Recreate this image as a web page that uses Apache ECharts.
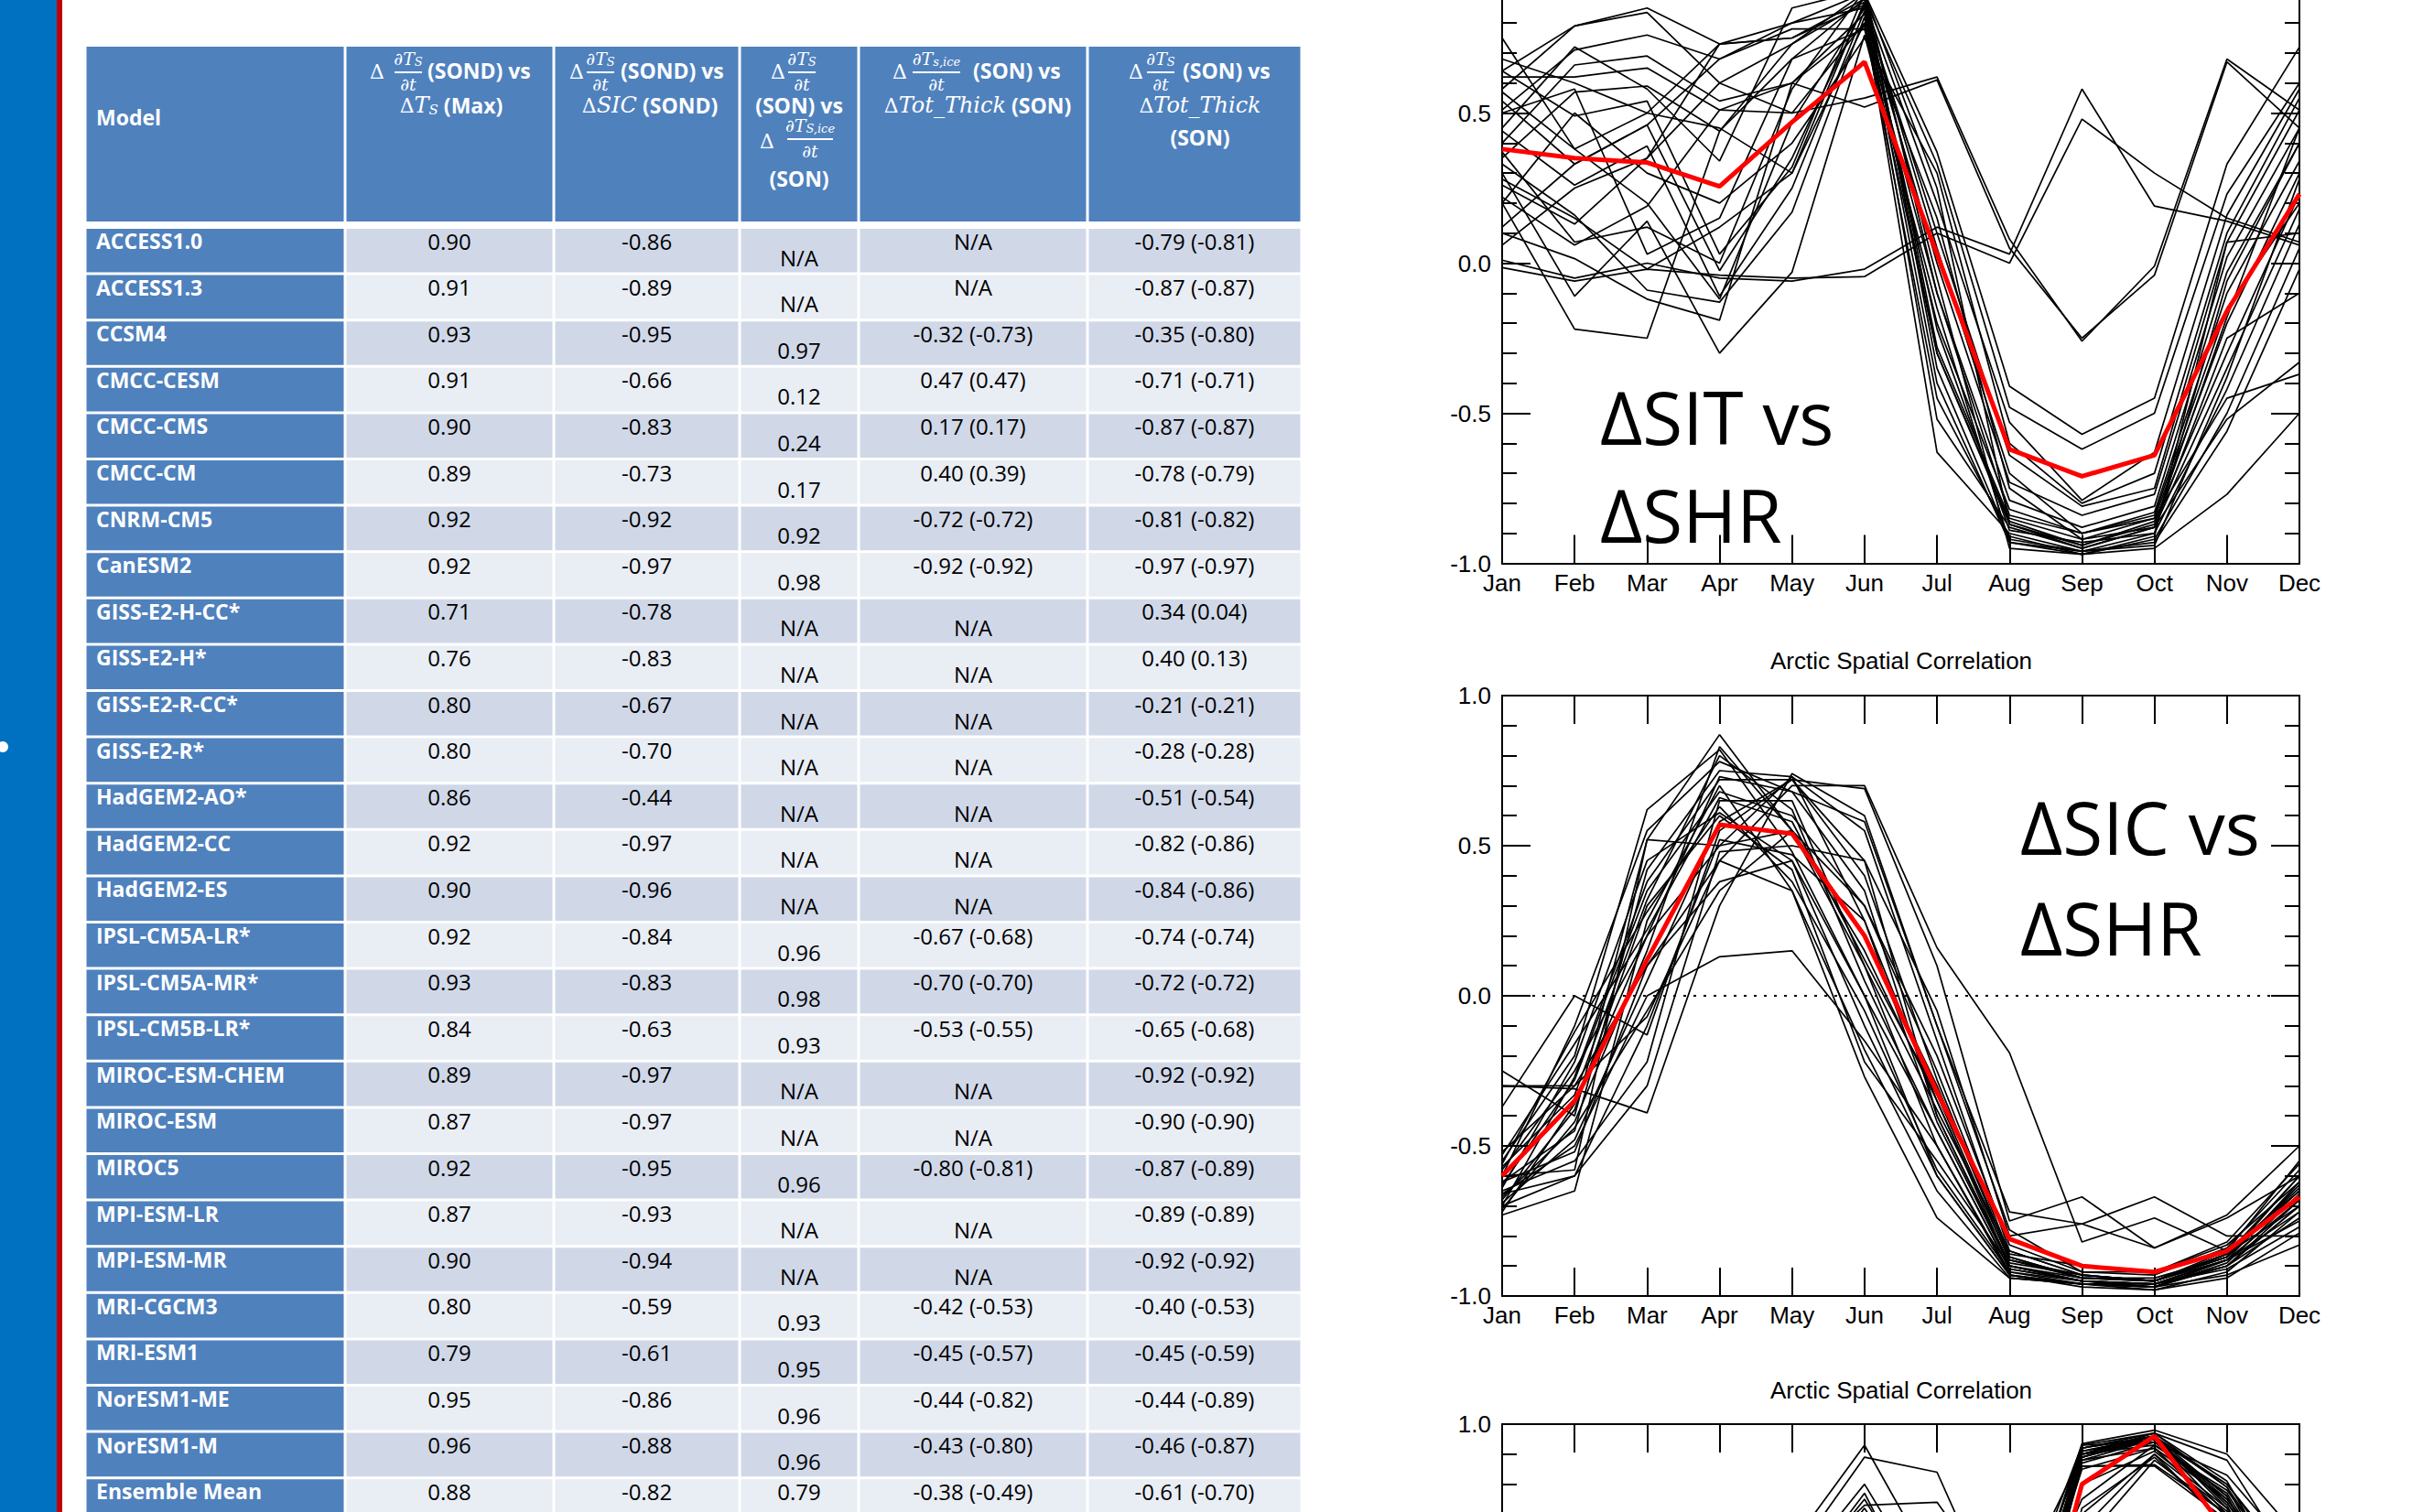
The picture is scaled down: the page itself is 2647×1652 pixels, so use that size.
<!DOCTYPE html>
<html><head><meta charset="utf-8">
<script src="https://cdn.jsdelivr.net/npm/echarts@6/dist/echarts.min.js"></script>
<style>html,body{margin:0;padding:0;background:#fff;overflow:hidden}#c{width:2647px;height:1652px}</style>
</head><body><div id="c"></div>
<script>
// ---------------- DATA ----------------
const months = ['Jan','Feb','Mar','Apr','May','Jun','Jul','Aug','Sep','Oct','Nov','Dec'];
const chartTitle = 'Arctic Spatial Correlation';

const models = ['ACCESS1.0','ACCESS1.3','CCSM4','CMCC-CESM','CMCC-CMS','CMCC-CM','CNRM-CM5','CanESM2','GISS-E2-H-CC*','GISS-E2-H*','GISS-E2-R-CC*','GISS-E2-R*','HadGEM2-AO*','HadGEM2-CC','HadGEM2-ES','IPSL-CM5A-LR*','IPSL-CM5A-MR*','IPSL-CM5B-LR*','MIROC-ESM-CHEM','MIROC-ESM','MIROC5','MPI-ESM-LR','MPI-ESM-MR','MRI-CGCM3','MRI-ESM1','NorESM1-ME','NorESM1-M','Ensemble Mean'];
const tsMax = ['0.90','0.91','0.93','0.91','0.90','0.89','0.92','0.92','0.71','0.76','0.80','0.80','0.86','0.92','0.90','0.92','0.93','0.84','0.89','0.87','0.92','0.87','0.90','0.80','0.79','0.95','0.96','0.88'];
const sicSond = ['-0.86','-0.89','-0.95','-0.66','-0.83','-0.73','-0.92','-0.97','-0.78','-0.83','-0.67','-0.70','-0.44','-0.97','-0.96','-0.84','-0.83','-0.63','-0.97','-0.97','-0.95','-0.93','-0.94','-0.59','-0.61','-0.86','-0.88','-0.82'];
const iceRatio = ['N/A','N/A','0.97','0.12','0.24','0.17','0.92','0.98','N/A','N/A','N/A','N/A','N/A','N/A','N/A','0.96','0.98','0.93','N/A','N/A','0.96','N/A','N/A','0.93','0.95','0.96','0.96','0.79'];
const iceThick = ['N/A','N/A','-0.32 (-0.73)','0.47 (0.47)','0.17 (0.17)','0.40 (0.39)','-0.72 (-0.72)','-0.92 (-0.92)','N/A','N/A','N/A','N/A','N/A','N/A','N/A','-0.67 (-0.68)','-0.70 (-0.70)','-0.53 (-0.55)','N/A','N/A','-0.80 (-0.81)','N/A','N/A','-0.42 (-0.53)','-0.45 (-0.57)','-0.44 (-0.82)','-0.43 (-0.80)','-0.38 (-0.49)'];
const totThick = ['-0.79 (-0.81)','-0.87 (-0.87)','-0.35 (-0.80)','-0.71 (-0.71)','-0.87 (-0.87)','-0.78 (-0.79)','-0.81 (-0.82)','-0.97 (-0.97)','0.34 (0.04)','0.40 (0.13)','-0.21 (-0.21)','-0.28 (-0.28)','-0.51 (-0.54)','-0.82 (-0.86)','-0.84 (-0.86)','-0.74 (-0.74)','-0.72 (-0.72)','-0.65 (-0.68)','-0.92 (-0.92)','-0.90 (-0.90)','-0.87 (-0.89)','-0.89 (-0.89)','-0.92 (-0.92)','-0.40 (-0.53)','-0.45 (-0.59)','-0.44 (-0.89)','-0.46 (-0.87)','-0.61 (-0.70)'];

// Top panel: dSIT vs dSHR (model lines + ensemble mean)
const sitModels = [
 [0.01,-0.05,0.0,-0.05,-0.06,-0.02,0.12,0.03,0.58,0.19,0.14,0.06],
 [-0.015,-0.06,-0.02,-0.04,-0.05,-0.045,0.10,0.0,0.48,0.30,0.15,0.07],
 [0.26,0.13,0.35,0.60,0.50,0.55,0.62,0.08,-0.26,-0.01,0.68,0.51],
 [0.22,0.06,0.19,0.51,0.60,0.52,0.61,0.05,-0.25,-0.04,0.67,0.45],
 [0.75,0.38,0.50,0.73,0.80,0.90,0.37,-0.41,-0.57,-0.45,0.33,0.72],
 [0.64,0.79,0.85,0.73,0.75,0.88,0.33,-0.48,-0.62,-0.50,0.23,0.60],
 [0.58,0.79,0.835,0.60,0.73,0.87,0.20,-0.53,-0.79,-0.63,0.16,0.58],
 [0.51,0.71,0.76,0.68,0.80,0.85,0.10,-0.64,-0.81,-0.75,0.07,0.51],
 [0.40,0.66,0.69,0.54,0.60,0.83,0.0,-0.73,-0.84,-0.77,0.02,0.45],
 [0.62,0.62,0.65,0.51,0.50,0.80,-0.10,-0.79,-0.88,-0.81,-0.03,0.40],
 [0.35,0.57,0.59,0.44,0.68,0.78,-0.20,-0.82,-0.90,-0.83,-0.10,0.34],
 [0.64,0.49,0.54,0.03,0.32,0.90,-0.28,-0.85,-0.92,-0.85,-0.20,0.30],
 [0.54,0.33,0.46,-0.025,0.35,0.86,-0.30,-0.87,-0.94,-0.86,-0.30,0.23],
 [0.44,0.26,0.39,-0.11,0.25,0.84,-0.52,-0.88,-0.95,-0.88,-0.35,0.18],
 [0.33,0.16,-0.09,-0.13,0.17,0.82,-0.63,-0.90,-0.96,-0.90,-0.42,0.13],
 [0.10,0.015,-0.12,-0.19,0.60,0.79,-0.45,-0.91,-0.97,-0.92,-0.50,0.05],
 [0.30,-0.11,0.14,-0.30,-0.03,0.76,-0.15,-0.93,-0.96,-0.93,-0.56,-0.02],
 [0.20,-0.22,-0.25,0.44,0.73,0.90,0.25,-0.87,-0.95,-0.88,-0.25,-0.10],
 [0.50,0.58,0.03,0.15,0.68,0.88,-0.05,-0.95,-0.97,-0.95,-0.77,-0.50],
 [0.06,0.25,0.35,0.73,0.75,0.86,0.05,-0.70,-0.90,-0.85,-0.45,-0.37],
 [0.12,0.33,0.46,0.68,0.78,0.78,0.15,-0.75,-0.92,-0.88,-0.52,-0.33],
 [0.45,0.72,0.58,0.34,0.85,0.91,-0.35,-0.92,-0.96,-0.94,-0.38,0.28],
 [0.28,0.15,-0.02,0.12,0.30,0.87,-0.22,-0.89,-0.93,-0.90,-0.06,0.40],
 [0.57,0.38,0.20,-0.12,0.47,0.85,-0.40,-0.93,-0.97,-0.91,0.07,0.10],
 [0.37,0.07,0.12,0.0,0.58,0.91,-0.10,-0.84,-0.90,-0.84,-0.15,0.20],
 [0.20,0.50,0.30,0.20,0.40,0.75,0.30,-0.60,-0.80,-0.70,0.10,0.55],
 [0.68,0.60,0.50,0.45,0.30,0.80,-0.30,-0.86,-0.94,-0.87,-0.18,0.45]
];
const sitMean = [0.38,0.35,0.335,0.256,0.47,0.67,0.03,-0.62,-0.71,-0.64,-0.16,0.23];

// Middle panel: dSIC vs dSHR
const sicModels = [
 [-0.25,-0.40,0.52,0.87,0.55,0.10,-0.50,-0.92,-0.95,-0.97,-0.88,-0.62],
 [-0.30,-0.31,-0.39,0.30,0.74,0.60,-0.10,-0.72,-0.76,-0.84,-0.73,-0.50],
 [-0.30,-0.30,-0.07,0.45,0.70,0.70,0.16,-0.19,-0.82,-0.74,-0.85,-0.55],
 [-0.37,0.0,-0.13,0.55,0.72,0.69,0.10,-0.75,-0.67,-0.84,-0.74,-0.60],
 [-0.55,-0.20,0.62,0.82,0.48,0.0,-0.60,-0.93,-0.96,-0.97,-0.90,-0.70],
 [-0.60,-0.10,0.55,0.78,0.68,0.35,-0.40,-0.90,-0.95,-0.96,-0.88,-0.72],
 [-0.62,-0.45,0.42,0.75,0.73,0.25,-0.35,-0.88,-0.94,-0.95,-0.87,-0.65],
 [-0.65,-0.55,-0.22,0.65,0.65,0.10,-0.38,-0.85,-0.93,-0.95,-0.86,-0.70],
 [-0.70,-0.60,-0.30,0.48,0.50,0.45,-0.05,-0.80,-0.76,-0.67,-0.80,-0.80],
 [-0.73,-0.65,0.25,0.70,0.35,-0.27,-0.74,-0.94,-0.96,-0.97,-0.93,-0.83],
 [-0.68,-0.38,0.30,0.60,0.42,-0.22,-0.55,-0.90,-0.95,-0.96,-0.88,-0.75],
 [-0.58,-0.25,0.20,0.50,0.73,0.55,-0.15,-0.85,-0.93,-0.95,-0.85,-0.65],
 [-0.52,-0.30,0.10,0.38,0.45,0.0,-0.45,-0.91,-0.95,-0.96,-0.90,-0.68],
 [-0.66,-0.50,0.0,0.13,0.15,-0.15,-0.50,-0.93,-0.97,-0.98,-0.92,-0.72],
 [-0.71,-0.42,0.15,0.83,0.55,0.20,-0.30,-0.87,-0.94,-0.95,-0.87,-0.60],
 [-0.63,-0.28,0.35,0.68,0.60,0.30,-0.20,-0.83,-0.92,-0.93,-0.84,-0.58],
 [-0.60,-0.58,0.52,0.50,0.55,0.30,-0.25,-0.86,-0.90,-0.92,-0.83,-0.62],
 [-0.56,-0.12,0.28,0.63,0.38,-0.05,-0.58,-0.92,-0.96,-0.97,-0.90,-0.70],
 [-0.69,-0.48,0.05,0.58,0.72,0.45,-0.40,-0.89,-0.93,-0.95,-0.86,-0.64],
 [-0.72,-0.36,0.20,0.73,0.68,0.58,-0.10,-0.78,-0.92,-0.92,-0.82,-0.56],
 [-0.64,-0.22,0.45,0.61,0.45,-0.10,-0.60,-0.93,-0.96,-0.96,-0.91,-0.77],
 [-0.67,-0.44,-0.05,0.35,0.55,0.15,-0.35,-0.90,-0.94,-0.95,-0.88,-0.68],
 [-0.57,-0.33,0.32,0.80,0.62,0.05,-0.45,-0.91,-0.95,-0.97,-0.89,-0.66],
 [-0.62,-0.52,0.10,0.45,0.35,-0.18,-0.65,-0.94,-0.96,-0.98,-0.94,-0.79],
 [-0.70,-0.27,0.38,0.72,0.72,0.40,-0.28,-0.87,-0.94,-0.94,-0.87,-0.63],
 [-0.53,-0.16,0.22,0.66,0.58,0.12,-0.33,-0.88,-0.93,-0.95,-0.86,-0.60],
 [-0.66,-0.60,-0.10,0.52,0.47,0.25,-0.42,-0.90,-0.95,-0.96,-0.90,-0.74]
];
const sicMean = [-0.60,-0.35,0.12,0.57,0.54,0.20,-0.32,-0.81,-0.90,-0.92,-0.85,-0.67];

// Bottom panel (only its top edge is visible)
const thirdModels = [
 [0.2,0.1,0.0,0.3,0.6,0.93,0.5,0.2,0.935,0.98,0.9,0.62],
 [0.1,0.0,-0.1,0.2,0.55,0.89,0.84,0.3,0.93,0.97,0.88,0.5],
 [0.0,-0.1,-0.2,0.1,0.5,0.8,0.4,0.1,0.92,0.97,0.81,0.4],
 [-0.1,-0.2,-0.3,0.0,0.45,0.77,0.3,0.0,0.91,0.96,0.79,0.35],
 [0.1,0.05,0.0,0.2,0.5,0.73,0.74,0.4,0.9,0.96,0.76,0.3],
 [0.0,-0.1,-0.1,0.1,0.4,0.72,0.35,0.2,0.89,0.95,0.75,0.45],
 [-0.2,-0.3,-0.2,0.0,0.3,0.65,0.3,0.1,0.86,0.865,0.7,0.4],
 [-0.1,-0.2,-0.1,0.1,0.35,0.6,0.25,0.0,0.86,0.86,0.68,0.35],
 [0.0,-0.1,0.0,0.2,0.4,0.7,0.2,-0.1,0.88,0.95,0.8,0.5],
 [0.1,0.0,0.1,0.3,0.5,0.68,0.3,0.0,0.87,0.94,0.74,0.4],
 [-0.3,-0.3,-0.2,0.0,0.3,0.6,0.2,0.1,0.92,0.96,0.72,0.3],
 [-0.2,-0.2,-0.1,0.1,0.4,0.55,0.1,0.0,0.9,0.95,0.7,0.35],
 [0.0,0.0,0.1,0.2,0.45,0.62,0.25,0.2,0.75,0.93,0.78,0.45],
 [0.1,0.0,0.0,0.2,0.4,0.5,0.15,-0.1,0.7,0.9,0.66,0.3],
 [-0.1,-0.1,0.0,0.1,0.3,0.58,0.2,0.1,0.85,0.92,0.69,0.4],
 [-0.2,-0.3,-0.2,0.0,0.35,0.66,0.3,0.1,0.9,0.93,0.77,0.38],
 [0.0,-0.1,-0.1,0.1,0.4,0.52,0.2,-0.2,0.6,0.88,0.7,0.3],
 [0.1,0.0,-0.1,0.2,0.45,0.7,0.4,0.2,0.93,0.94,0.83,0.55],
 [-0.1,-0.2,-0.1,0.1,0.35,0.6,0.3,0.3,0.89,0.96,0.73,0.28],
 [0.0,0.0,0.0,0.2,0.4,0.65,0.2,0.0,0.88,0.92,0.75,0.42],
 [-0.1,-0.1,-0.2,0.0,0.3,0.55,0.1,-0.1,0.65,0.9,0.71,0.33],
 [0.1,0.1,0.0,0.2,0.45,0.75,0.35,0.1,0.91,0.95,0.74,0.36],
 [-0.2,-0.1,-0.1,0.1,0.35,0.63,0.25,0.0,0.8,0.91,0.72,0.3],
 [0.0,-0.1,0.0,0.1,0.4,0.58,0.2,-0.2,0.72,0.89,0.67,0.26],
 [0.2,0.1,0.1,0.3,0.5,0.67,0.3,0.1,0.9,0.97,0.79,0.44],
 [-0.1,-0.1,-0.1,0.1,0.3,0.62,0.15,0.0,0.89,0.95,0.76,0.34],
 [0.0,0.0,-0.1,0.1,0.4,0.7,0.3,0.2,0.92,0.96,0.8,0.48]
];
const thirdMean = [0.0,-0.05,-0.05,0.12,0.4,0.65,0.25,-0.1,0.8,0.96,0.64,0.35];

// ---------------- LAYOUT / STYLE ----------------
const W = '#ffffff';
const HEAD_BLUE = '#4F81BD';
const ROW_A = '#D0D8E8', ROW_B = '#E9EDF4';
const SANS = '"Open Sans", "Noto Sans", sans-serif';
const MATH = '"DejaVu Serif", serif';
const LAB = '"Liberation Sans", Arial, sans-serif';
const colX = [93, 377, 605, 808, 938, 1188, 1422];
const headTop = 51, headBot = 242;
const rowTop0 = 250, rowPitch = 50.6, rowH = 47.6;

const gfx = [];
function rect(x, y, w, h, fill) {
  gfx.push({type:'rect', silent:true, z:1, shape:{x, y, width:w, height:h}, style:{fill}});
}
function txt(x, y, text, o) {
  o = o || {};
  const align = o.align || 'center';
  gfx.push({type:'text', silent:true, z:5, x, y, style:{
    text, fill: o.fill || W,
    fontSize: o.size || 23, fontFamily: o.family || SANS,
    fontWeight: o.weight || 'normal', fontStyle: o.style || 'normal',
    align, verticalAlign:'middle', textAlign: align, textVerticalAlign:'middle',
    rich: o.rich
  }});
}
function line(x1, y1, x2, y2, stroke, w) {
  gfx.push({type:'line', silent:true, z:5, shape:{x1, y1, x2, y2}, style:{stroke, lineWidth:w}});
}
const mathRich = {
  d:{fontSize:22, fontFamily:MATH, fill:W},
  m:{fontSize:24, fontFamily:MATH, fontStyle:'italic', fill:W},
  ms:{fontSize:15, fontFamily:MATH, fontStyle:'italic', fill:W, verticalAlign:'bottom'},
  b:{fontSize:23, fontFamily:SANS, fontWeight:'bold', fill:W},
  n:{fontSize:19, fontFamily:MATH, fontStyle:'italic', fill:W},
  ns:{fontSize:13, fontFamily:MATH, fontStyle:'italic', fill:W, verticalAlign:'bottom'}
};
function frac(cx, barY, sub, barW) {
  txt(cx, barY - 15, '{n|∂T}{ns|' + sub + '}', {rich: mathRich});
  line(cx - barW / 2, barY, cx + barW / 2, barY, W, 2);
  txt(cx, barY + 13, '{n|∂t}', {rich: mathRich});
}
function delta(x, y) { txt(x, y, 'Δ', {family: MATH, size: 22}); }

// slide decorations
rect(0, 0, 62, 1652, '#0070C0');
rect(62, 0, 6, 1652, '#C00000');
gfx.push({type:'circle', silent:true, z:2, shape:{cx:3, cy:816, r:6}, style:{fill:W}});

// table header
for (let c = 0; c < 6; c++) rect(colX[c] + 1.5, headTop, colX[c+1] - colX[c] - 3, headBot - headTop, HEAD_BLUE);
txt(105, 128, 'Model', {align:'left', weight:'bold'});
// col 1
delta(412, 78); frac(446, 79, 'S', 30);
txt(467, 77, '(SOND) vs', {align:'left', weight:'bold'});
txt(493, 115, '{d|Δ}{m|T}{ms|S} {b|(Max)}', {rich: mathRich});
// col 2
delta(630, 78); frac(656, 79, 'S', 30);
txt(678, 77, '(SOND) vs', {align:'left', weight:'bold'});
txt(710, 115, '{d|Δ}{m|SIC} {b|(SOND)}', {rich: mathRich});
// col 3
delta(850, 78); frac(876, 79, 'S', 30);
txt(873, 115, '(SON) vs', {weight:'bold'});
delta(838, 154); frac(885, 152, 'S,ice', 50);
txt(873, 195, '(SON)', {weight:'bold'});
// col 4
delta(983, 78); frac(1023, 79, 's,ice', 52);
txt(1063, 77, '(SON) vs', {align:'left', weight:'bold'});
txt(1068, 115, '{d|Δ}{m|Tot_Thick} {b|(SON)}', {rich: mathRich});
// col 5
delta(1241, 78); frac(1268, 79, 'S', 30);
txt(1292, 77, '(SON) vs', {align:'left', weight:'bold'});
txt(1311, 115, '{d|Δ}{m|Tot_Thick}', {rich: mathRich});
txt(1311, 150, '(SON)', {weight:'bold'});

// table body
const bodyCols = [tsMax, sicSond, iceRatio, iceThick, totThick];
for (let r = 0; r < models.length; r++) {
  const y = rowTop0 + r * rowPitch;
  rect(colX[0] + 1.5, y, colX[1] - colX[0] - 3, rowH, HEAD_BLUE);
  txt(colX[0] + 12, y + 13, models[r], {align:'left', weight:'bold'});
  for (let c = 0; c < 5; c++) {
    const x0 = colX[c+1], x1 = colX[c+2];
    rect(x0 + 1.5, y, x1 - x0 - 3, rowH, r % 2 === 0 ? ROW_A : ROW_B);
    const v = bodyCols[c][r];
    let low = false;
    if (c === 2 && r < models.length - 1) low = true;
    if (c === 3 && v === 'N/A' && r >= 8) low = true;
    txt((x0 + x1) / 2, y + (low ? 31 : 13), v, {fill:'#000', size:24});
  }
}

// panel annotations
txt(1748, 454, 'ΔSIT vs', {align:'left', fill:'#000', size:80});
txt(1748, 561, 'ΔSHR', {align:'left', fill:'#000', size:80});
txt(2207, 902, 'ΔSIC vs', {align:'left', fill:'#000', size:80});
txt(2207, 1012, 'ΔSHR', {align:'left', fill:'#000', size:80});
txt(2077, 722, chartTitle, {fill:'#000', size:26, family:LAB});
txt(2077, 1519, chartTitle, {fill:'#000', size:26, family:LAB});

// ---------------- CHARTS ----------------
const panelTops = [-40.5, 760, 1556];
const panelH = 656;
const grids = panelTops.map(t => ({left:1641, top:t, width:871, height:panelH, containLabel:false, outerBoundsMode:'none'}));
const axLine = {color:'#000', width:2};
const xAxes = [], yAxes = [];
panelTops.forEach((t, gi) => {
  // only labels that fall inside the page are drawn
  const bottomVisible = gi !== 2;
  const xb = {type:'category', gridIndex:gi, data:months, boundaryGap:false, position:'bottom',
    axisLine:{show:true, onZero:false, lineStyle:axLine},
    axisTick:{show:true, inside:true, length:31, interval:0, lineStyle:axLine},
    axisLabel:{show:bottomVisible, interval:0, margin:8, color:'#000', fontSize:26, fontFamily:LAB},
    splitLine:{show:false}};
  xAxes.push(xb);
  xAxes.push(Object.assign({}, xb, {position:'top', axisLabel:{show:false}}));
  const yl = {type:'value', gridIndex:gi, min:-1, max:1, interval:0.5, position:'left',
    axisLine:{show:true, onZero:false, lineStyle:axLine},
    axisTick:{show:true, inside:true, length:31, lineStyle:axLine},
    minorTick:{show:true, splitNumber:5, length:16, lineStyle:axLine},
    axisLabel:{show:true, margin:12, color:'#000', fontSize:26, fontFamily:LAB,
      formatter: v => (gi === 2 && v < 1) ? '' : v.toFixed(1),
      showMaxLabel: gi !== 0},
    splitLine:{show:false}};
  yAxes.push(yl);
  yAxes.push(Object.assign({}, yl, {position:'right', axisLabel:{show:false}}));
});

const series = [];
function addPanel(gi, lines, mean, zeroLine) {
  lines.forEach((d, i) => {
    const s = {type:'line', xAxisIndex:gi*2, yAxisIndex:gi*2, data:d, symbol:'none', silent:true,
      animation:false, lineStyle:{color:'#000', width:1.7}, z:3};
    if (zeroLine && i === 0) {
      s.markLine = {silent:true, symbol:['none','none'], label:{show:false},
        lineStyle:{color:'#000', type:[3,8], width:2}, data:[{yAxis:0}], animation:false};
    }
    series.push(s);
  });
  series.push({type:'line', xAxisIndex:gi*2, yAxisIndex:gi*2, data:mean, symbol:'none', silent:true,
    animation:false, lineStyle:{color:'#FF0000', width:5}, z:4});
}
addPanel(0, sitModels, sitMean, false);
addPanel(1, sicModels, sicMean, true);
addPanel(2, thirdModels, thirdMean, false);

const chart = echarts.init(document.getElementById('c'), null, {renderer:'svg', width:2647, height:1652});
chart.setOption({
  backgroundColor:'#ffffff',
  animation:false,
  grid: grids,
  xAxis: xAxes,
  yAxis: yAxes,
  series: series,
  graphic: {elements: gfx}
});
</script>
</body></html>
